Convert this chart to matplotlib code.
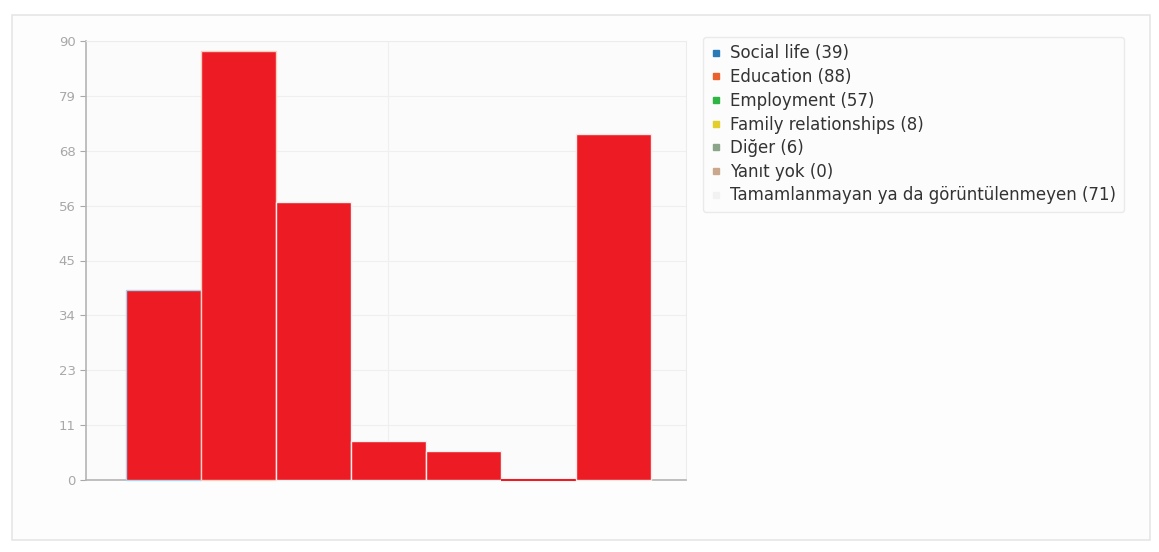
import matplotlib.pyplot as plt
from matplotlib.lines import Line2D
from matplotlib.patches import Rectangle

# data
categories = ["Social life", "Education", "Employment", "Family relationships",
              "Diğer", "Yanıt yok", "Tamamlanmayan ya da görüntülenmeyen"]
counts = [39, 88, 57, 8, 6, 0, 71]
series_colors = ["#2a7ab8", "#e8622c", "#2fb543", "#e2cf2c", "#8aa58a", "#c9a88e", "#f2f2f2"]
edge_colors = ["#a9d3f0", "#f6d0c0", "#f0f0f0", "#f0f0f0", "#f0f0f0", "#e2cfc2", "#f8e8e8"]
ytick_vals = [0, 11.25, 22.5, 33.75, 45, 56.25, 67.5, 78.75, 90]
ytick_labels = ["0", "11", "23", "34", "45", "56", "68", "79", "90"]

plt.rcParams['font.family'] = ['DejaVu Sans']

fig = plt.figure(figsize=(11.59, 5.52), dpi=100)
fig.patch.set_facecolor("white")

# outer panel
panel = Rectangle((12 / 1159, 1 - 540 / 552), (1150 - 12) / 1159, (540 - 15) / 552,
                  transform=fig.transFigure, facecolor="#fdfdfd", edgecolor="#e6e6e6",
                  linewidth=1.2, zorder=-5)
fig.patches.append(panel)

ax = fig.add_axes([86 / 1159, 1 - 480 / 552, 600 / 1159, (480 - 41) / 552])
ax.set_zorder(2)
ax.set_facecolor("#fbfbfb")

xs = list(range(len(counts)))
for x, h, ec in zip(xs, counts, edge_colors):
    ax.bar(x, h, width=1.0, align="edge", color="#ed1c24",
           edgecolor=ec if h > 0 else "#ed1c24", linewidth=1.5 if h == 0 else 1.0,
           zorder=3, clip_on=False)

ax.set_xlim(-0.533, 7.467)
ax.set_ylim(0, 90)
ax.set_yticks(ytick_vals)
ax.set_yticklabels(ytick_labels)
ax.set_xticks([3.5])
ax.set_xticklabels([])
ax.tick_params(axis="x", length=0)
ax.tick_params(axis="y", colors="#a8a8a8", labelsize=9.5, length=4, width=0.8)
ax.grid(True, color="#efefef", linewidth=0.8, zorder=0)

for side in ["top", "right"]:
    ax.spines[side].set_color("#ececec")
for side in ["left", "bottom"]:
    ax.spines[side].set_color("#b4b4b4")
    ax.spines[side].set_linewidth(1.2)
    ax.spines[side].set_zorder(2.5)

handles = [Line2D([], [], marker="s", linestyle="none", markersize=4,
                  markerfacecolor=c, markeredgecolor=c) for c in series_colors]
labels = [f"{c} ({v})" for c, v in zip(categories, counts)]
leg = fig.legend(handles, labels, loc="upper left",
                 bbox_to_anchor=(703 / 1159, 1 - 37 / 552),
                 prop={"family": "DejaVu Sans", "size": 12},
                 frameon=True, handlelength=0.6, handletextpad=0.6,
                 labelspacing=0.34, borderpad=0.45, borderaxespad=0)
leg.set_zorder(3)
leg.get_frame().set_edgecolor("#e6e6e6")
leg.get_frame().set_facecolor("#fcfcfc")
leg.get_frame().set_linewidth(1.0)
for t in leg.get_texts():
    t.set_color("#333333")

fig.savefig("out.png", dpi=100)
